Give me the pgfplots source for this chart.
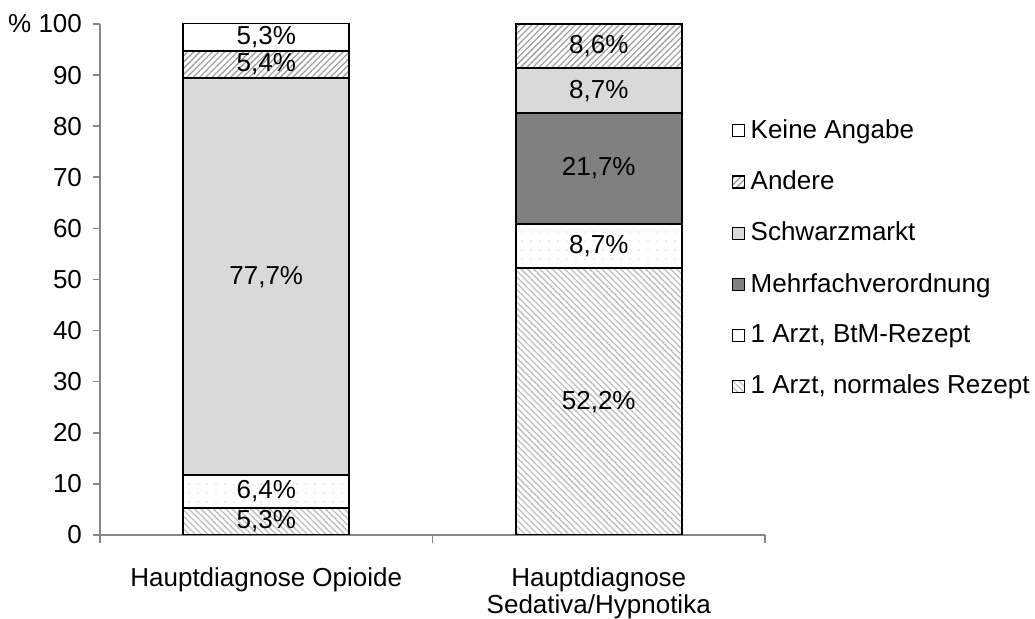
\documentclass[border=0pt]{standalone}
\usepackage{fontspec}
\setmainfont{Liberation Sans}
\usepackage{pgfplots}
\pgfplotsset{compat=1.18}
\usetikzlibrary{patterns.meta}

\definecolor{schwarz}{HTML}{D9D9D9}
\definecolor{mehrfach}{HTML}{808080}
\definecolor{hatch}{HTML}{BEBEBE}
\definecolor{hatchdark}{HTML}{A0A0A0}
\definecolor{axisgray}{HTML}{868686}

\pgfplotsset{
  squarelegend/.style={
    legend image code/.code={
      \draw[##1, draw=black, line width=0.6pt] (0pt,-3pt) rectangle (6pt,3pt);
    }
  }
}

\begin{document}
\fontsize{13}{15}\selectfont
\begin{tikzpicture}
\useasboundingbox (-50pt,-42pt) rectangle (467.5pt,267.5pt);
\begin{axis}[
  at={(0,0)}, anchor=south west,
  scale only axis,
  width=332.5pt, height=255.5pt,
  ybar stacked,
  bar width=83pt,
  xmin=-0.5, xmax=1.5,
  ymin=0, ymax=100,
  xtick={0,1},
  xticklabels={Hauptdiagnose Opioide, {Hauptdiagnose\\[-1.5pt]Sedativa/Hypnotika}},
  x tick label style={align=center, yshift=-8.5pt},
  x tick style={draw=none},
  extra x ticks={-0.5,0.5,1.5},
  extra x tick labels={},
  extra x tick style={x tick style={draw=axisgray, line width=0.8pt}, major tick length=4pt},
  ytick={0,10,...,100},
  yticklabels={0,10,20,30,40,50,60,70,80,90,\% 100},
  y tick label style={xshift=-1pt},
  y tick style={draw=axisgray, line width=0.8pt},
  tick align=outside,
  major tick length=3.5pt,
  axis x line*=bottom,
  axis y line*=left,
  axis line style={draw=axisgray, line width=1pt, -},
  /pgf/number format/assume math mode=true,
  tick label style={font=\fontsize{13}{15}\selectfont},
  squarelegend,
  reverse legend,
  legend cell align=left,
  legend style={at={(0.94,0.83)}, anchor=north west, draw=none, fill=none,
    font=\fontsize{13}{15}\selectfont, row sep=10.3pt,
    /tikz/every odd column/.append style={column sep=1pt}},
  every axis plot/.append style={draw=black, line width=1pt},
]
% 1 Arzt, normales Rezept
\addplot[fill=white, postaction={pattern={Lines[angle=-45,distance=2.2pt,line width=0.65pt]}, pattern color=hatch}]
  coordinates {(0,5.3) (1,52.2)};
% 1 Arzt, BtM-Rezept
\addplot[fill=white, postaction={pattern={Dots[distance=4.5pt,radius=0.35pt]}, pattern color=hatch}]
  coordinates {(0,6.4) (1,8.7)};
% Mehrfachverordnung
\addplot[fill=mehrfach] coordinates {(0,0) (1,21.7)};
% Schwarzmarkt
\addplot[fill=schwarz] coordinates {(0,77.7) (1,8.7)};
% Andere
\addplot[fill=white, postaction={pattern={Lines[angle=45,distance=2.2pt,line width=0.65pt]}, pattern color=hatchdark}]
  coordinates {(0,5.4) (1,8.6)};
% Keine Angabe
\addplot[fill=white] coordinates {(0,5.3) (1,0)};
\legend{{1 Arzt, normales Rezept}, {1 Arzt, BtM-Rezept}, Mehrfachverordnung, Schwarzmarkt, Andere, Keine Angabe}

% segment centres for the value labels
\coordinate (o1) at (axis cs:0,2.65);
\coordinate (o2) at (axis cs:0,8.5);
\coordinate (o3) at (axis cs:0,50.55);
\coordinate (o4) at (axis cs:0,92.1);
\coordinate (o5) at (axis cs:0,97.45);
\coordinate (s1) at (axis cs:1,26.1);
\coordinate (s2) at (axis cs:1,56.55);
\coordinate (s3) at (axis cs:1,71.75);
\coordinate (s4) at (axis cs:1,86.95);
\coordinate (s5) at (axis cs:1,95.6);
\end{axis}
\node at (o1) {5,3\%};
\node at (o2) {6,4\%};
\node at (o3) {77,7\%};
\node at (o4) {5,4\%};
\node at (o5) {5,3\%};
\node at (s1) {52,2\%};
\node at (s2) {8,7\%};
\node at (s3) {21,7\%};
\node at (s4) {8,7\%};
\node at (s5) {8,6\%};
\end{tikzpicture}
\end{document}
